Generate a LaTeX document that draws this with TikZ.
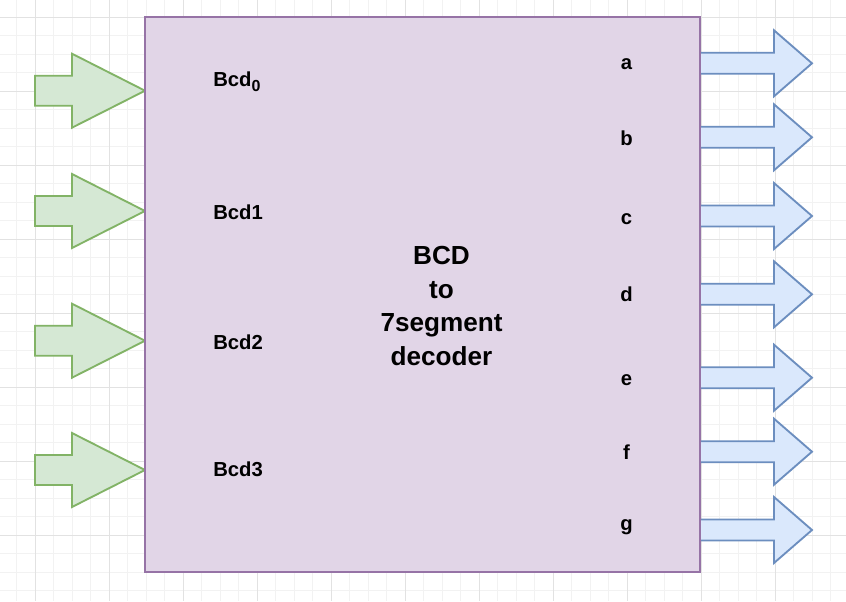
\documentclass[tikz,border=0pt]{standalone}
\usepackage{fontspec}
\setmainfont{Liberation Sans}
\definecolor{gridminor}{HTML}{F2F2F2}
\definecolor{gridmajor}{HTML}{E2E2E2}
\definecolor{greenfill}{HTML}{D5E8D4}
\definecolor{greenline}{HTML}{82B366}
\definecolor{bluefill}{HTML}{DAE8FC}
\definecolor{blueline}{HTML}{6C8EBF}
\definecolor{purplefill}{HTML}{E1D5E7}
\definecolor{purpleline}{HTML}{9673A6}
\begin{document}
\begin{tikzpicture}[x=0.75pt,y=-0.75pt,
  gminor/.style={draw=gridminor,line width=0.75pt},
  gmajor/.style={draw=gridmajor,line width=0.75pt},
  inarrow/.style={fill=greenfill,draw=greenline,line width=1.4pt},
  outarrow/.style={fill=bluefill,draw=blueline,line width=1.4pt},
  decbox/.style={fill=purplefill,draw=purpleline,line width=1.4pt,inner sep=0pt,
    minimum width=416.25pt,minimum height=416.25pt},
  pinlabel/.style={font=\bfseries\fontsize{15.2}{18}\selectfont,inner sep=0pt},
  titletext/.style={font=\bfseries\fontsize{19.6}{25.3}\selectfont,align=center,inner sep=0pt}]
\fill[white] (0,0) rectangle (846,601);
\useasboundingbox (0,0) rectangle (846,601);
% grid
\foreach \i in {0,...,44} {\draw[gminor] ({16.5+18.5*\i},0) -- ({16.5+18.5*\i},601);}
\foreach \i in {0,...,31} {\draw[gminor] (0,{17+18.5*\i}) -- (846,{17+18.5*\i});}
\foreach \i in {0,...,10} {\draw[gmajor] ({35+74*\i},0) -- ({35+74*\i},601);}
\foreach \i in {0,...,7} {\draw[gmajor] (0,{17+74*\i}) -- (846,{17+74*\i});}
% input arrows
\foreach \c in {90.7,211,340.7,470} {
  \draw[inarrow] (35,{\c-15}) -- (72,{\c-15}) -- (72,{\c-37}) -- (145,\c)
    -- (72,{\c+37}) -- (72,{\c+15}) -- (35,{\c+15}) -- cycle;
}
% output arrows
\foreach \c in {63.3,137.3,216,294.3,377.7,451.7,530} {
  \draw[outarrow] (700,{\c-10.5}) -- (774,{\c-10.5}) -- (774,{\c-33}) -- (812,\c)
    -- (774,{\c+33}) -- (774,{\c+10.5}) -- (700,{\c+10.5}) -- cycle;
}
% decoder block
\node[decbox] (dec) at (422.5,294.5) {};
\node[titletext] (title) at (441.5,306) {BCD\\to\\7segment\\decoder};
% input labels
\node[pinlabel,anchor=base west] (bcd0) at (213,86) {Bcd\raisebox{-4.4pt}{\fontsize{12}{12}\selectfont 0}};
\node[pinlabel,anchor=base west] (bcd1) at (213,219.3) {Bcd1};
\node[pinlabel,anchor=base west] (bcd2) at (213,349) {Bcd2};
\node[pinlabel,anchor=base west] (bcd3) at (213,476) {Bcd3};
% output labels
\node[pinlabel,anchor=base] (oa) at (626.5,69.5) {a};
\node[pinlabel,anchor=base] (ob) at (626.5,145) {b};
\node[pinlabel,anchor=base] (oc) at (626.5,224) {c};
\node[pinlabel,anchor=base] (od) at (626.5,301.7) {d};
\node[pinlabel,anchor=base] (oe) at (626.5,385) {e};
\node[pinlabel,anchor=base] (of) at (626.5,459) {f};
\node[pinlabel,anchor=base] (og) at (626.5,530.5) {g};
\end{tikzpicture}
\end{document}
